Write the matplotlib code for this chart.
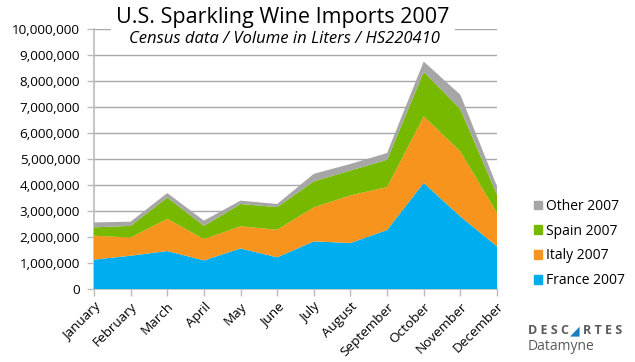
import numpy as np
import matplotlib.pyplot as plt
from matplotlib.patches import Patch
from matplotlib.ticker import FuncFormatter

plt.rcParams['font.family'] = ['Open Sans', 'DejaVu Sans']

months = ['January', 'February', 'March', 'April', 'May', 'June', 'July',
          'August', 'September', 'October', 'November', 'December']
series = ['France 2007', 'Italy 2007', 'Spain 2007', 'Other 2007']

# volumes in liters
france = [1130000, 1280000, 1460000, 1100000, 1560000, 1220000,
          1830000, 1770000, 2270000, 4080000, 2790000, 1640000]
italy = [920000, 700000, 1240000, 820000, 850000, 1060000,
         1310000, 1830000, 1650000, 2560000, 2500000, 1280000]
spain = [320000, 450000, 820000, 510000, 860000, 870000,
         1000000, 960000, 1050000, 1710000, 1630000, 710000]
other = [190000, 160000, 170000, 200000, 130000, 120000,
         290000, 250000, 260000, 400000, 550000, 320000]

colors = ['#00AEEF', '#F7941D', '#77B900', '#A6A6A6']
grid_col = '#A8A8A8'

fig = plt.figure(figsize=(6.35, 3.62), dpi=100)
ax = fig.add_axes([94 / 635, 73 / 362, 403 / 635, 260 / 362])

x = np.arange(len(months))
ax.stackplot(x, france, italy, spain, other, colors=colors, labels=series,
             zorder=3)

ax.set_xlim(0, len(months) - 1)
ax.set_ylim(0, 10000000)
ax.set_yticks(np.arange(0, 10000001, 1000000))
ax.yaxis.set_major_formatter(FuncFormatter(lambda v, p: f'{int(v):,}'))
ax.set_xticks(x)
ax.set_xticklabels(months, rotation=45, ha='right', rotation_mode='anchor',
                   fontsize=10.3)
ax.grid(axis='y', color=grid_col, linewidth=1, zorder=0)
ax.set_axisbelow(True)

for s in ['top', 'right']:
    ax.spines[s].set_visible(False)
for s in ['left', 'bottom']:
    ax.spines[s].set_color('#BBBBBB')
    ax.spines[s].set_linewidth(1.2)
ax.tick_params(axis='both', colors='#BBBBBB', labelcolor='black',
               labelsize=9.7, length=5, width=1)
ax.tick_params(axis='x', pad=3)
ax.tick_params(axis='y', pad=5)

fig.text(283 / 635, 1 - 17 / 362, 'U.S. Sparkling Wine Imports 2007',
         ha='center', va='center', fontsize=15.5,
         bbox=dict(fc='white', ec='none', pad=4))
fig.text(284 / 635, 1 - 39 / 362, 'Census data / Volume in Liters / HS220410',
         ha='center', va='center', fontsize=12, style='italic')

handles = [Patch(color=c, label=l) for c, l in zip(colors, series)][::-1]
ax.legend(handles=handles, loc='upper left',
          bbox_to_anchor=(527 / 635, 1 - 192 / 362),
          bbox_transform=fig.transFigure, frameon=False, fontsize=10,
          handlelength=0.6, handleheight=0.6, handletextpad=0.25,
          labelspacing=0.7, borderpad=0)

# logo
fig.text(528 / 635, 1 - 331 / 362, 'D E S C', ha='left', va='center',
         fontsize=9, color='#5A5A5A', fontweight='bold')
fig.text(575 / 635, 1 - 331 / 362, '\u25e2', ha='center', va='center',
         fontsize=9, color='#1A7FC1', family='DejaVu Sans')
fig.text(583 / 635, 1 - 331 / 362, 'R T E S', ha='left', va='center',
         fontsize=9, color='#5A5A5A', fontweight='bold')
fig.text(528 / 635, 1 - 346 / 362, 'Datamyne', ha='left', va='center',
         fontsize=10, color='#5A5A5A')

fig.savefig('out.png', dpi=100)
